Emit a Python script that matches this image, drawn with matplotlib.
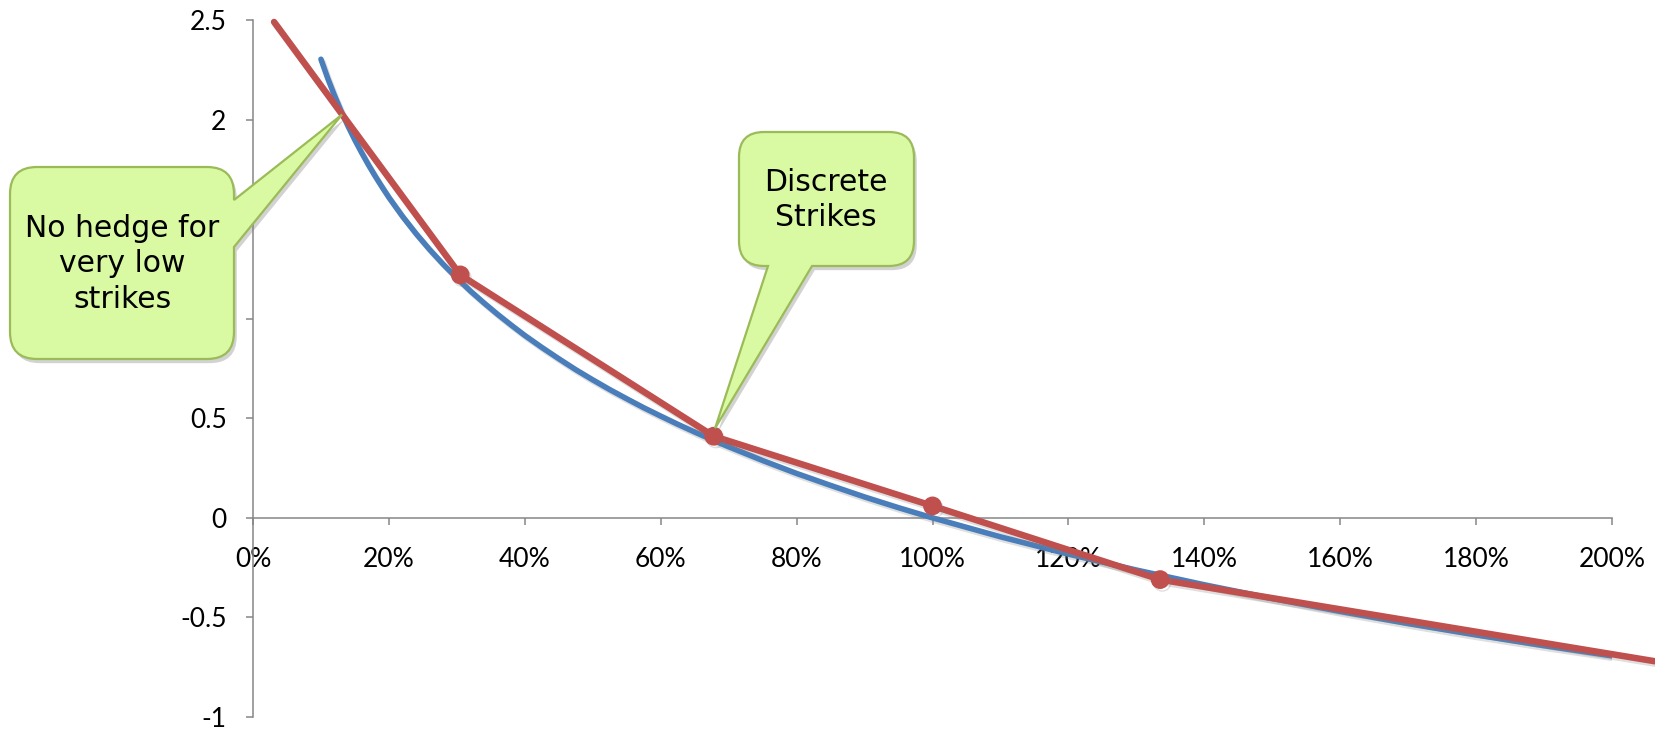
#!/usr/bin/env python3

# Log payoff (-ln K) against a piecewise-linear hedge built from a few discrete strikes.

import matplotlib
matplotlib.use("Agg")
import matplotlib.pyplot as plt
import matplotlib.patheffects as pe
from matplotlib.path import Path
from matplotlib.patches import PathPatch
from matplotlib.transforms import IdentityTransform

# strike (% of spot) vs payoff of the log contract
log_strikes = [10, 11, 12, 13, 14, 15, 16, 17, 18, 19, 20, 22, 24, 26, 28, 30, 32, 34,
               36, 38, 40, 42.5, 45, 47.5, 50, 52.5, 55, 57.5, 60, 62.5, 65, 67.5, 70,
               75, 80, 85, 90, 95, 100, 110, 120, 130, 140, 150, 160, 170, 180, 190, 200]
log_payoff = [2.303, 2.207, 2.120, 2.040, 1.966, 1.897, 1.833, 1.772, 1.715, 1.661,
              1.609, 1.514, 1.427, 1.347, 1.273, 1.204, 1.139, 1.079, 1.022, 0.968,
              0.916, 0.856, 0.799, 0.744, 0.693, 0.644, 0.598, 0.553, 0.511, 0.470,
              0.431, 0.393, 0.357, 0.288, 0.223, 0.163, 0.105, 0.051, 0.000, -0.095,
              -0.182, -0.262, -0.336, -0.405, -0.470, -0.531, -0.588, -0.642, -0.693]

# replicating portfolio: kinks at the traded strikes, extended past both ends
hedge_strikes = [3.1, 30.5, 67.8, 100, 133.5, 206.3]
hedge_payoff = [2.49, 1.22, 0.41, 0.06, -0.31, -0.72]

x_ticks = [0, 20, 40, 60, 80, 100, 120, 140, 160, 180, 200]
y_ticks = [-1, -0.5, 0, 0.5, 1, 1.5, 2, 2.5]
y_labels = ["-1", "-0.5", "0", "0.5", "", "", "2", "2.5"]  # 1 and 1.5 sit under the callout

BLUE = "#4a7ebb"
RED = "#c0504d"
AXIS_GREY = "#868686"
CALLOUT_FILL = "#d9f9a3"
CALLOUT_EDGE = "#9bbb59"

W, H = 1655, 729
fig = plt.figure(figsize=(W / 100, H / 100), dpi=100)
ax = fig.add_axes([253 / W, 12 / H, 1359 / W, 697 / H])
ax.set_xlim(0, 200)
ax.set_ylim(-1, 2.5)

shadow = [pe.SimpleLineShadow(offset=(1.5, -2), shadow_color="gray", alpha=0.25), pe.Normal()]

ax.plot(log_strikes, log_payoff, color=BLUE, lw=4.0, solid_capstyle="round",
        solid_joinstyle="round", zorder=3, path_effects=shadow)
ax.plot(hedge_strikes, hedge_payoff, color=RED, lw=4.7, solid_capstyle="round",
        marker="o", markersize=12.5, markevery=[1, 2, 3, 4], clip_on=False,
        zorder=4, path_effects=shadow)

for side in ["top", "right"]:
    ax.spines[side].set_visible(False)
ax.spines["bottom"].set_position(("data", 0))
for side in ["left", "bottom"]:
    ax.spines[side].set_color(AXIS_GREY)
    ax.spines[side].set_linewidth(1.1)

ax.set_xticks(x_ticks)
ax.set_xticklabels(["{}%".format(t) for t in x_ticks])
ax.set_yticks(y_ticks)
ax.set_yticklabels(y_labels)
ax.tick_params(axis="both", direction="out", length=5, width=1.1, color=AXIS_GREY,
               labelsize=19, labelcolor="black")
ax.tick_params(axis="x", pad=16)
ax.tick_params(axis="y", pad=14)
for lab in ax.get_xticklabels() + ax.get_yticklabels():
    lab.set_family("Lato")


def px(x, y):
    # pixel position measured from the top-left corner -> display coords
    return (x, H - y)


def callout(box, r, side, base, tip):
    x0, y0, x1, y1 = box
    verts, codes = [], []

    def add(pt, code):
        verts.append(px(*pt) if code != "tip" else tip)
        codes.append(Path.LINETO if code == "tip" else code)

    add((x0 + r, y0), Path.MOVETO)
    add((x1 - r, y0), Path.LINETO)
    add((x1, y0), Path.CURVE3)
    add((x1, y0 + r), Path.CURVE3)
    if side == "right":
        add((x1, base[0]), Path.LINETO)
        add(None, "tip")
        add((x1, base[1]), Path.LINETO)
    add((x1, y1 - r), Path.LINETO)
    add((x1, y1), Path.CURVE3)
    add((x1 - r, y1), Path.CURVE3)
    if side == "bottom":
        add((base[1], y1), Path.LINETO)
        add(None, "tip")
        add((base[0], y1), Path.LINETO)
    add((x0 + r, y1), Path.LINETO)
    add((x0, y1), Path.CURVE3)
    add((x0, y1 - r), Path.CURVE3)
    add((x0, y0 + r), Path.LINETO)
    add((x0, y0), Path.CURVE3)
    add((x0 + r, y0), Path.CURVE3)
    verts.append(verts[0])
    codes.append(Path.CLOSEPOLY)

    patch = PathPatch(Path(verts, codes), facecolor=CALLOUT_FILL, edgecolor=CALLOUT_EDGE,
                      lw=1.6, transform=IdentityTransform(), zorder=10,
                      path_effects=[pe.SimplePatchShadow(offset=(2, -3), shadow_rgbFace="gray",
                                                         alpha=0.35), pe.Normal()])
    fig.add_artist(patch)


# pointer tips sit on the curves
tip_low = tuple(ax.transData.transform((13.1, 2.025)))
tip_disc = tuple(ax.transData.transform((68.0, 0.45)))

callout((10, 167, 234, 359), 27, "right", (200, 247), tip_low)
callout((739, 132, 914, 266), 25, "bottom", (768, 812), tip_disc)

fig.text(122 / W, 1 - 264 / H, "No hedge for\nvery low\nstrikes", ha="center", va="center",
         fontsize=21.5, linespacing=1.28, zorder=11)
fig.text(826 / W, 1 - 200 / H, "Discrete\nStrikes", ha="center", va="center",
         fontsize=21.5, linespacing=1.28, zorder=11)

fig.savefig("out.png", dpi=100)
